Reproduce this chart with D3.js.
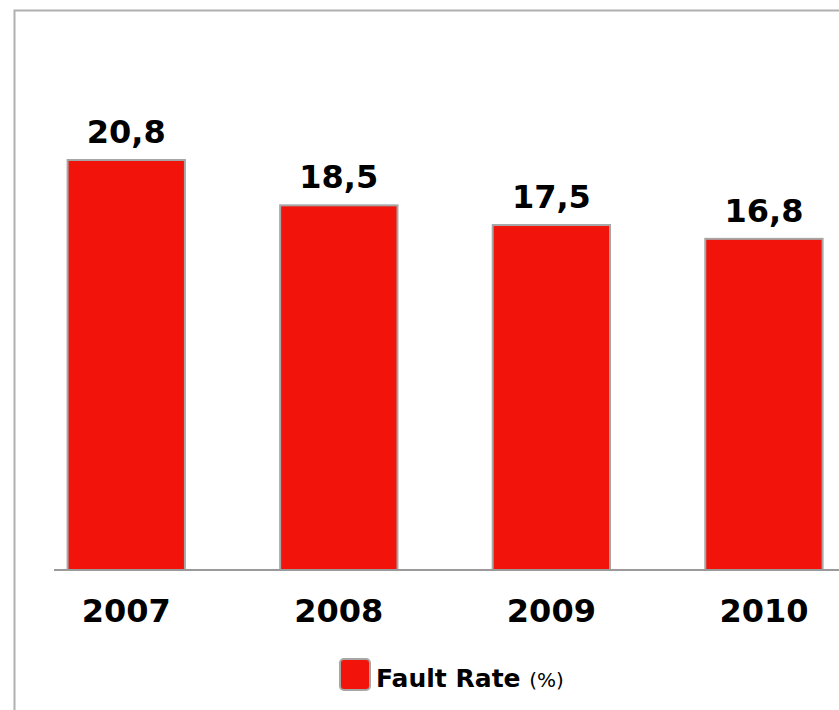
<!DOCTYPE html>
<html>
<head>
<meta charset="utf-8">
<script src="https://cdn.jsdelivr.net/npm/d3@7"></script>
<style>
  html, body { margin: 0; padding: 0; background: #fff; }
  svg { display: block; }
</style>
</head>
<body>
<svg id="chart" width="839" height="710"></svg>
<script>
// Fault rate per year (%)
const years = ["2007", "2008", "2009", "2010"];
const faultRate = [20.8, 18.5, 17.5, 16.8];
const seriesName = "Fault Rate";
const seriesUnit = "(%)";

const W = 839, H = 710;
const baseY = 570;
const fontFamily = "'DejaVu Sans', Verdana, sans-serif";
const barColor = "#f2140a";
const strokeGray = "#a6a6a6";

const svg = d3.select("#chart");

// outer frame of the chart area (runs past the right and bottom edges)
svg.append("rect")
  .attr("x", 14.5).attr("y", 10.5)
  .attr("width", W + 40).attr("height", H + 40)
  .attr("fill", "#fff")
  .attr("stroke", "#b0b0b0")
  .attr("stroke-width", 2);

const x = d3.scaleBand()
  .domain(years)
  .range([20.3, 20.3 + 4 * 212.4])
  .paddingInner(0.448)
  .paddingOuter(0.2225);

const y = d3.scaleLinear()
  .domain([0, 20.8])
  .range([baseY, 160]);

const data = years.map((yr, i) => ({ year: yr, value: faultRate[i] }));

const fmt = v => d3.format(".1f")(v).replace(".", ",");

// bars
svg.append("g").selectAll("rect")
  .data(data)
  .join("rect")
  .attr("x", d => x(d.year))
  .attr("y", d => y(d.value))
  .attr("width", x.bandwidth())
  .attr("height", d => baseY - y(d.value))
  .attr("fill", barColor)
  .attr("stroke", strokeGray)
  .attr("stroke-width", 2);

// category axis line
svg.append("line")
  .attr("x1", 54).attr("x2", W)
  .attr("y1", baseY).attr("y2", baseY)
  .attr("stroke", "#9a9a9a")
  .attr("stroke-width", 2);

// value labels above bars
svg.append("g").selectAll("text")
  .data(data)
  .join("text")
  .attr("x", d => x(d.year) + x.bandwidth() / 2)
  .attr("y", d => y(d.value) - 17)
  .attr("text-anchor", "middle")
  .attr("font-family", fontFamily)
  .attr("font-weight", "bold")
  .attr("font-size", 32)
  .attr("fill", "#000")
  .text(d => fmt(d.value));

// category labels
const xAxis = d3.axisBottom(x).tickSize(0).tickPadding(0);
const gx = svg.append("g")
  .attr("transform", `translate(0, ${baseY})`)
  .call(xAxis);
gx.select(".domain").remove();
gx.selectAll("text")
  .attr("dy", null)
  .attr("y", 52)
  .attr("font-family", fontFamily)
  .attr("font-weight", "bold")
  .attr("font-size", 32)
  .attr("fill", "#000");

// legend
const legend = svg.append("g");
legend.append("rect")
  .attr("x", 340).attr("y", 659)
  .attr("width", 30).attr("height", 31)
  .attr("rx", 4)
  .attr("fill", barColor)
  .attr("stroke", strokeGray)
  .attr("stroke-width", 2);
const lt = legend.append("text")
  .attr("x", 376).attr("y", 687)
  .attr("font-family", fontFamily)
  .attr("font-weight", "bold")
  .attr("fill", "#000");
lt.append("tspan").attr("font-size", 25).text(seriesName + " ");
lt.append("tspan").attr("font-size", 20).attr("font-weight", "normal").text(seriesUnit);
</script>
</body>
</html>
